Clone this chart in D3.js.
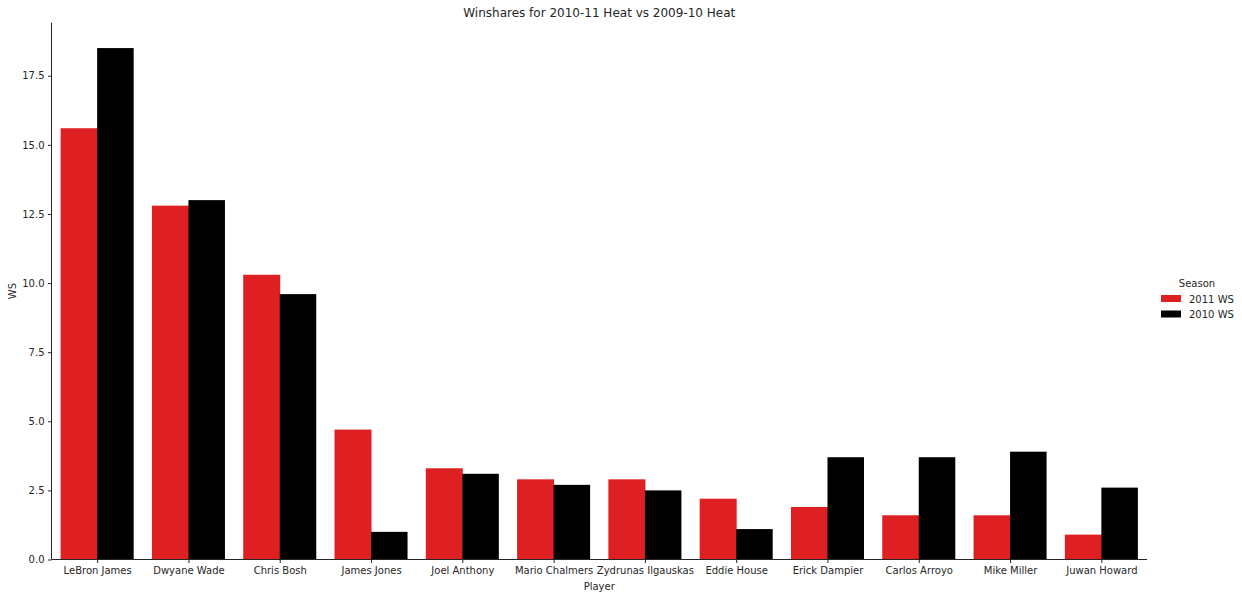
<!DOCTYPE html>
<html>
<head>
<meta charset="utf-8">
<script src="https://cdn.jsdelivr.net/npm/d3@7"></script>
<style>
  body { margin: 0; background: #fff; }
  text { font-family: "DejaVu Sans", sans-serif; fill: #262626; }
</style>
</head>
<body>
<div id="chart"></div>
<script>
// data
const players = ["LeBron James", "Dwyane Wade", "Chris Bosh", "James Jones", "Joel Anthony",
  "Mario Chalmers", "Zydrunas Ilgauskas", "Eddie House", "Erick Dampier", "Carlos Arroyo",
  "Mike Miller", "Juwan Howard"];
const seasons = ["2011 WS", "2010 WS"];
const ws2011 = [15.6, 12.8, 10.3, 4.7, 3.3, 2.9, 2.9, 2.2, 1.9, 1.6, 1.6, 0.9];
const ws2010 = [18.5, 13.0, 9.6, 1.0, 3.1, 2.7, 2.5, 1.1, 3.7, 3.7, 3.9, 2.6];
const yTicks = [0, 2.5, 5, 7.5, 10, 12.5, 15, 17.5];

const width = 1242, height = 598;
const margin = { top: 22.5, right: 95, bottom: 38.5, left: 51.5 };

const svg = d3.select("#chart").append("svg")
  .attr("width", width)
  .attr("height", height);

const x = d3.scaleBand()
  .domain(players)
  .range([margin.left, width - margin.right])
  .paddingInner(0.2)
  .paddingOuter(0.1);

const xSub = d3.scaleBand()
  .domain(seasons)
  .range([0, x.bandwidth()]);

const yMax = d3.max(ws2010.concat(ws2011)) * 1.05;
const y = d3.scaleLinear()
  .domain([0, yMax])
  .range([height - margin.bottom, margin.top]);

const color = d3.scaleOrdinal()
  .domain(seasons)
  .range(["#df2022", "#000000"]);

const rows = players.map((p, i) => ({ player: p, values: [ws2011[i], ws2010[i]] }));

// bars
const g = svg.append("g");
g.selectAll("g")
  .data(rows)
  .join("g")
  .attr("transform", (d) => `translate(${x(d.player)},0)`)
  .selectAll("rect")
  .data((d) => d.values.map((v, j) => ({ season: seasons[j], value: v })))
  .join("rect")
  .attr("x", (d) => xSub(d.season))
  .attr("width", (d, j) => xSub.bandwidth() + (j === 0 ? 0.5 : 0))
  .attr("y", (d) => y(d.value))
  .attr("height", (d) => y(0) - y(d.value))
  .attr("fill", (d) => color(d.season));

// axes
const xAxis = svg.append("g")
  .attr("transform", `translate(0,${height - margin.bottom})`)
  .call(d3.axisBottom(d3.scalePoint().domain(players)
      .range([x(players[0]) + x.bandwidth() / 2, x(players[players.length - 1]) + x.bandwidth() / 2]))
    .tickSize(3.5).tickPadding(3.5).tickSizeOuter(0));
xAxis.select(".domain").attr("d", `M${margin.left},0H${width - margin.right}`);

const yAxis = svg.append("g")
  .attr("transform", `translate(${margin.left},0)`)
  .call(d3.axisLeft(y).tickValues(yTicks).tickFormat(d3.format(".1f"))
    .tickSize(3.5).tickPadding(3.5).tickSizeOuter(0));
yAxis.select(".domain").attr("d", `M0,${y(0)}V${margin.top}`);

svg.selectAll(".tick text").attr("font-size", 10).attr("font-family", "DejaVu Sans").attr("fill", "#262626");
svg.selectAll(".tick line, .domain").attr("stroke", "#262626").attr("stroke-width", 1);

// labels
svg.append("text")
  .attr("x", (margin.left + width - margin.right) / 2)
  .attr("y", 17)
  .attr("text-anchor", "middle")
  .attr("font-size", 12)
  .text("Winshares for 2010-11 Heat vs 2009-10 Heat");

svg.append("text")
  .attr("x", (margin.left + width - margin.right) / 2)
  .attr("y", 590)
  .attr("text-anchor", "middle")
  .attr("font-size", 10)
  .text("Player");

svg.append("text")
  .attr("transform", `translate(16,${(margin.top + y(0)) / 2}) rotate(-90)`)
  .attr("text-anchor", "middle")
  .attr("font-size", 10)
  .text("WS");

// legend
const legend = svg.append("g").attr("transform", "translate(1161,0)");
legend.append("text")
  .attr("x", 36)
  .attr("y", 287)
  .attr("text-anchor", "middle")
  .attr("font-size", 10)
  .text("Season");

const item = legend.selectAll(".item")
  .data(seasons)
  .join("g")
  .attr("class", "item")
  .attr("transform", (d, i) => `translate(0,${295 + i * 15.5})`);
item.append("rect")
  .attr("width", 20)
  .attr("height", 7)
  .attr("fill", (d) => color(d));
item.append("text")
  .attr("x", 28)
  .attr("y", 7.5)
  .attr("font-size", 10)
  .text((d) => d);
</script>
</body>
</html>
